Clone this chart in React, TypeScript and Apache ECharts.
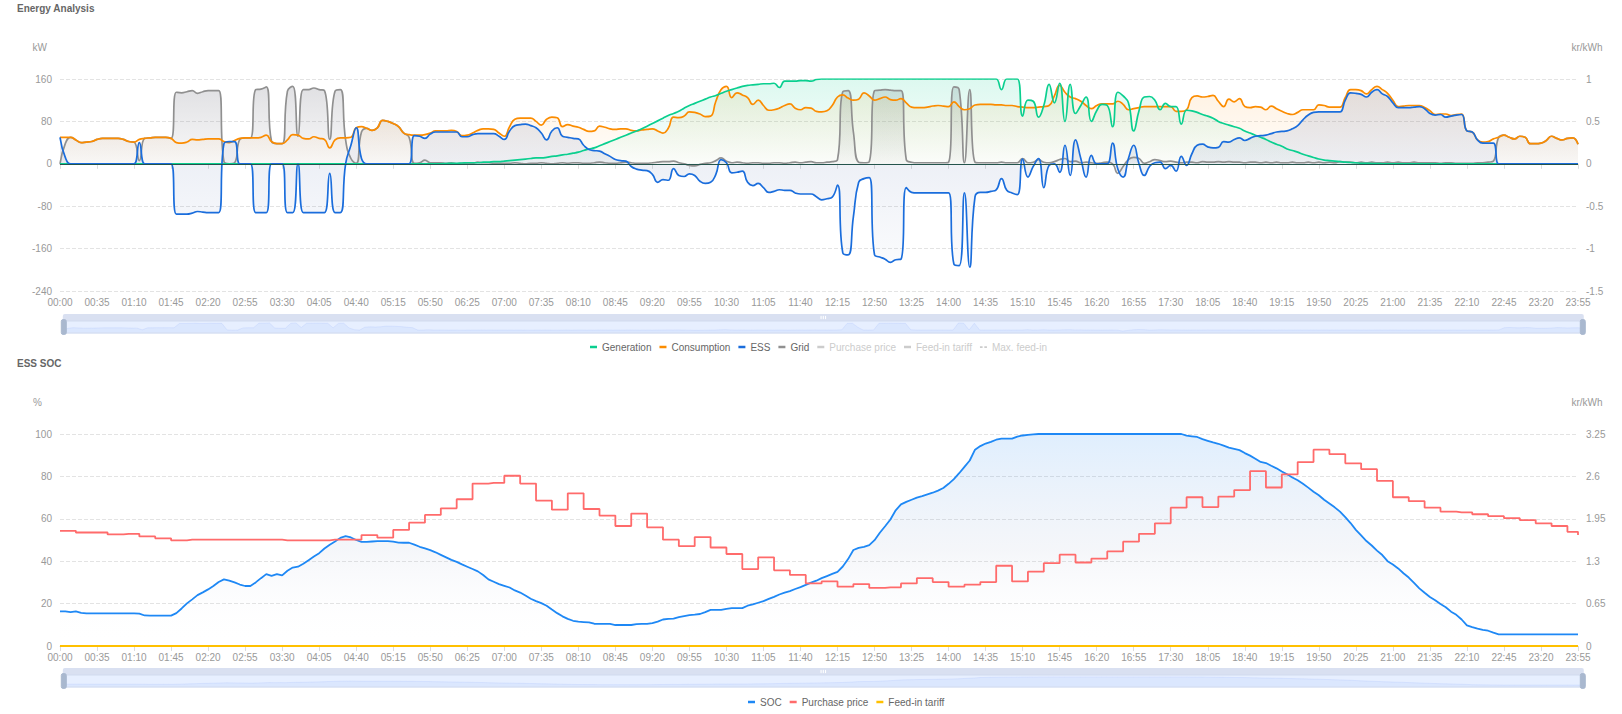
import React, { useEffect, useRef } from 'react';
import * as echarts from 'echarts';

const FONT = 'Liberation Sans, Arial, sans-serif';

const times: string[] = [];
for (let m = 0; m < 1440; m += 5) {
  times.push(String(Math.floor(m / 60)).padStart(2, '0') + ':' + String(m % 60).padStart(2, '0'));
}

// kW, 5-minute samples
const generation = [
  0,0,0,0,0,0,0,0,0,0,0,0,
  0,0,0,0,0,0,0,0,0,0,0,0,
  0,0,0,0,0,0,0,0,0,0,0,0,
  0,0,0,0,0,0,0,0,0,0,0,0,
  0,0,0,0,0,0,0,0,0,0,0,0,
  0,0,0,0,0,0,0,0,0,0,0,0,
  0,0.5,1,1,1.5,2,2,2,3,3,4,4,
  5,6,7,8,9,10,11,11,12,14,15,17,
  18,20,22,25,28,30,34,38,42,46,50,54,
  58,62,66,71,76,81,86,91,95,99,105,110,
  114,118,122,126,129,133,137,140,143,146,148,149,
  150,151,151,152,144,156,156,156,157,157,156,159,
  160,160,160,160,160,160,160,160,160,160,160,160,
  160,160,160,160,160,160,160,160,160,160,160,160,
  160,160,160,160,160,160,160,160,160,160,140,160,
  160,160,90,120,118,88,110,150,115,152,80,150,
  95,110,126,80,100,112,110,70,135,128,115,62,
  100,126,127,120,102,114,108,108,75,101,100,97,
  93,90,86,80,76,73,70,67,62,58,54,50,
  46,41,37,33,28,25,22,18,15,12,9,7,
  6,5,4,3,2.5,2,1,1,0.5,0.5,0,0,
  0,0,0,0,0,0,0,0,0,0,0,0,
  0,0,0,0,0,0,0,0,0,0,0,0,
  0,0,0,0,0,0,0,0,0,0,0,0,
];

const consumption = [
  50,50,50,45,40,41,42,46,48,48,48,48,
  46,42,41,46,48,49,50,50,50,48,40,39,
  41,46,45,46,47,47,47,42,40,44,48,49,
  49,49,50,54,42,38,38,45,55,54,48,47,
  51,48,46,30,45,49,49,50,68,70,67,63,
  68,82,80,76,70,58,55,54,54,55,58,62,
  62,62,63,61,53,54,58,63,66,66,65,58,
  52,70,84,86,86,86,80,73,84,88,87,70,
  74,71,69,65,61,62,71,69,66,65,66,66,
  63,62,64,65,66,62,58,67,88,87,90,98,
  97,94,89,90,118,140,146,125,134,130,125,112,
  120,110,101,102,105,110,113,105,102,106,105,99,
  98,100,110,126,130,124,120,122,134,128,120,123,
  126,121,120,123,115,107,106,106,107,109,110,109,
  108,117,108,102,104,111,112,112,112,111,111,110,
  110,108,107,106,106,107,108,110,128,148,135,126,
  123,118,110,104,110,113,113,113,118,112,102,104,
  106,108,108,108,108,108,108,99,99,102,125,128,
  126,127,129,118,108,122,117,123,108,106,108,107,
  102,109,104,99,95,93,97,102,102,102,111,110,
  107,107,107,125,140,140,138,132,140,146,140,133,
  120,108,109,110,110,110,106,100,93,94,94,91,
  93,94,62,60,45,41,42,47,50,54,50,47,
  52,50,38,38,39,44,52,48,45,48,49,37,
];

const ess = [
  50,12,0,0,0,0,0,0,0,0,0,0,
  0,0,0,40,0,0,0,0,0,0,-95,-95,
  -95,-93,-90,-91,-92,-92,-92,38,42,42,0,0,
  0,-92,-92,-92,0,0,0,-92,-92,0,-92,-92,
  -92,-92,-92,-18,-92,-92,0,35,68,10,0,0,
  0,0,0,0,0,0,0,53,52,48,56,60,
  60,60,60,60,51,51,55,57,57,57,57,52,
  46,62,72,74,75,72,68,58,45,62,68,52,
  50,48,47,35,27,25,24,19,14,8,6,5,
  -5,-10,-12,-13,-20,-35,-30,-31,-9,-22,-24,-19,
  -22,-33,-37,-35,-20,8,2,-17,-16,-14,-35,-41,
  -37,-45,-54,-52,-49,-50,-50,-55,-57,-57,-57,-62,
  -68,-66,-63,-40,-168,-172,-100,-35,-28,-26,-172,-176,
  -180,-186,-181,-180,-45,-54,-55,-55,-55,-55,-55,-55,
  -55,-189,-192,-55,-195,-62,-54,-54,-52,-49,-28,-50,
  -55,-58,9,-25,-5,10,-45,-3,0,-16,35,-22,
  45,10,-25,16,0,0,0,39,-10,-25,10,35,
  0,-22,-5,2,3,-9,-3,-14,14,-3,19,35,
  37,32,30,31,42,41,46,49,44,48,52,53,
  54,57,60,61,62,66,72,83,92,97,98,98,
  98,98,98,120,134,133,131,126,135,140,132,127,
  115,106,106,106,107,108,104,95,92,93,88,90,
  92,93,62,60,45,39,39,39,0,0,0,0,
  0,0,0,0,0,0,0,0,0,0,0,0,
];

const gridPower = [
  0,38,50,45,40,41,42,46,48,48,48,48,
  46,42,41,6,48,49,50,50,50,48,135,134,
  136,138,133,136,138,138,138,4,0,2,46,49,
  49,140,141,145,42,38,38,137,146,52,140,140,
  143,140,138,46,137,140,45,10,1,60,67,63,
  68,82,80,76,70,58,50,1,2,7,2,2,
  2,1,2,0,1,1,1,3,2,2,1,1,
  1,1,2,1,0,1,1,2,1,0,1,2,
  1,2,2,1,1,2,3,2,1,1,2,3,
  2,1,1,1,2,3,4,4,5,2,0,-3,
  -4,-1,1,2,6,11,5,2,3,2,1,2,
  2,1,1,2,2,1,2,3,2,3,4,2,
  2,3,4,8,136,138,60,3,2,4,138,139,
  140,139,138,138,8,3,2,2,2,2,2,2,
  3,145,140,2,140,3,2,2,2,2,3,2,
  2,2,10,2,3,8,3,2,4,8,10,4,
  5,2,3,2,1,2,3,0,-18,-5,8,12,
  10,1,4,8,6,4,5,3,2,3,3,2,
  4,3,3,4,3,4,3,3,2,3,3,2,
  3,2,3,2,2,3,2,2,3,2,3,2,
  3,2,4,3,3,2,3,2,3,2,2,3,
  2,3,2,2,3,2,2,2,2,1,2,2,
  1,1,1,1,2,2,3,5,50,54,50,47,
  52,50,38,38,39,44,52,48,45,48,49,37,
];

// %, 5-minute samples
const soc = [
  16.3,16.3,16,16.3,15.6,15.4,15.4,15.4,15.4,15.4,15.4,15.4,
  15.4,15.4,15.4,15.3,14.4,14.3,14.3,14.3,14.3,14.3,15.5,17.7,
  20.1,22,24,25.3,26.7,28.3,30.2,31.4,30.8,30,29,28.3,
  28.3,30,32,33.9,33.1,33.9,33.3,35.5,37,37.4,38.8,40.5,
  42.2,43.8,46,47.8,49.3,51,51.8,51.2,50,49.1,49.1,49.3,
  49.5,49.5,49.5,49.2,48.8,48.7,48.7,47.8,46.8,46,45.2,44.2,
  43,41.8,40.6,39.7,38.5,37.4,36.3,35.2,33.5,31.4,30.3,29.2,
  28.4,27.6,26.2,25.2,23.8,22.3,21.2,20.2,19,17.2,15.5,14,
  12.8,11.9,11.5,11.3,11.1,10.5,10.4,10.4,10.4,9.9,9.9,9.9,
  9.9,10.3,10.4,10.4,10.8,11.5,12.5,12.8,12.9,13.6,14.1,14.6,
  14.8,15.1,16,17,17,17,17.5,17.9,17.9,17.9,19,19.6,
  20.4,21.2,22.2,23.2,24.3,25.2,25.9,26.9,27.8,28.8,29.9,30.8,
  32,33,34,35,37.5,41,45.3,46.3,46.8,47.6,49.9,53.4,
  56.5,59.7,64,66.8,68,69,70,70.7,71.5,72.3,73.3,74.5,
  76.5,78.7,81.5,84.5,87.5,92.6,94.3,95.5,96.3,97.3,97.8,97.8,
  97.8,98.8,99.3,99.6,99.8,100,100,100,100,100,100,100,
  100,100,100,100,100,100,100,100,100,100,100,100,
  100,100,100,100,100,100,100,100,100,99.2,98.9,98.6,
  97.6,96.8,96,95.4,94.5,93.6,93,92.4,91,89.8,88.3,86.8,
  86.3,85,83.8,82.3,81,79.5,78.2,76.5,74.7,72.8,71.1,69,
  67.2,65.4,63.4,60.8,58,54.8,52.2,49.5,47.4,45,42.9,40,
  38.4,36.6,34.3,32.3,29.8,27.2,25.1,23.1,21.6,19.8,18.3,16.2,
  14.7,12.5,9.7,8.9,8.2,7.6,7.2,6.3,5.5,5.5,5.5,5.5,
  5.5,5.5,5.5,5.5,5.5,5.5,5.5,5.5,5.5,5.5,5.5,5.5,
];

// kr/kWh, 5-minute samples
const purchasePrice = [
  1.765,1.765,1.765,1.74,1.74,1.74,1.74,1.74,1.74,1.71,1.71,1.71,
  1.72,1.72,1.72,1.68,1.68,1.68,1.65,1.65,1.65,1.62,1.62,1.62,
  1.63,1.63,1.63,1.63,1.63,1.63,1.63,1.63,1.63,1.63,1.63,1.63,
  1.63,1.63,1.63,1.63,1.63,1.63,1.62,1.62,1.62,1.62,1.62,1.62,
  1.62,1.62,1.62,1.63,1.63,1.63,1.63,1.63,1.63,1.70,1.70,1.70,
  1.66,1.66,1.66,1.78,1.78,1.78,1.89,1.89,1.89,2.01,2.01,2.01,
  2.11,2.11,2.11,2.25,2.25,2.25,2.49,2.49,2.49,2.50,2.50,2.50,
  2.61,2.61,2.61,2.49,2.49,2.49,2.23,2.23,2.23,2.09,2.09,2.09,
  2.34,2.34,2.34,2.10,2.10,2.10,2.00,2.00,2.00,1.84,1.84,1.84,
  2.03,2.03,2.03,1.82,1.82,1.82,1.63,1.63,1.63,1.53,1.53,1.53,
  1.67,1.67,1.67,1.51,1.51,1.51,1.41,1.41,1.41,1.18,1.18,1.18,
  1.36,1.36,1.36,1.16,1.16,1.16,1.09,1.09,1.09,0.96,0.96,0.96,
  0.99,0.99,0.99,0.91,0.91,0.91,0.95,0.95,0.95,0.89,0.89,0.89,
  0.90,0.90,0.90,0.96,0.96,0.96,1.04,1.04,1.04,0.98,0.98,0.98,
  0.91,0.91,0.91,0.94,0.94,0.94,0.98,0.98,0.98,1.23,1.23,1.23,
  0.99,0.99,0.99,1.14,1.14,1.14,1.27,1.27,1.27,1.40,1.40,1.40,
  1.28,1.28,1.28,1.34,1.34,1.34,1.45,1.45,1.45,1.60,1.60,1.60,
  1.72,1.72,1.72,1.88,1.88,1.88,2.12,2.12,2.12,2.28,2.28,2.28,
  2.13,2.13,2.13,2.29,2.29,2.29,2.39,2.39,2.39,2.68,2.68,2.68,
  2.43,2.43,2.43,2.63,2.63,2.63,2.82,2.82,2.82,3.01,3.01,3.01,
  2.94,2.94,2.94,2.80,2.80,2.80,2.71,2.71,2.71,2.53,2.53,2.53,
  2.28,2.28,2.28,2.22,2.22,2.22,2.12,2.12,2.12,2.06,2.06,2.06,
  2.05,2.05,2.05,2.02,2.02,2.02,1.99,1.99,1.99,1.96,1.96,1.96,
  1.93,1.93,1.93,1.88,1.88,1.88,1.84,1.84,1.84,1.75,1.75,1.70,
];

const feedInTariff = [
  0,0,0,0,0,0,0,0,0,0,0,0, 0,0,0,0,0,0,0,0,0,0,0,0,
  0,0,0,0,0,0,0,0,0,0,0,0, 0,0,0,0,0,0,0,0,0,0,0,0,
  0,0,0,0,0,0,0,0,0,0,0,0, 0,0,0,0,0,0,0,0,0,0,0,0,
  0,0,0,0,0,0,0,0,0,0,0,0, 0,0,0,0,0,0,0,0,0,0,0,0,
  0,0,0,0,0,0,0,0,0,0,0,0, 0,0,0,0,0,0,0,0,0,0,0,0,
  0,0,0,0,0,0,0,0,0,0,0,0, 0,0,0,0,0,0,0,0,0,0,0,0,
  0,0,0,0,0,0,0,0,0,0,0,0, 0,0,0,0,0,0,0,0,0,0,0,0,
  0,0,0,0,0,0,0,0,0,0,0,0, 0,0,0,0,0,0,0,0,0,0,0,0,
  0,0,0,0,0,0,0,0,0,0,0,0, 0,0,0,0,0,0,0,0,0,0,0,0,
  0,0,0,0,0,0,0,0,0,0,0,0, 0,0,0,0,0,0,0,0,0,0,0,0,
  0,0,0,0,0,0,0,0,0,0,0,0, 0,0,0,0,0,0,0,0,0,0,0,0,
  0,0,0,0,0,0,0,0,0,0,0,0, 0,0,0,0,0,0,0,0,0,0,0,0,
];

const maxFeedIn: number[] = [];

const topYTicks = { min: -240, max: 160, interval: 80 };
const topY2Ticks = { min: -1.5, max: 1, interval: 0.5 };
const botYTicks = { min: 0, max: 100, interval: 20 };
const botY2Ticks = { min: 0, max: 3.25, interval: 0.65 };

const COLORS = {
  generation: '#0acf8f',
  consumption: '#fb8c00',
  ess: '#1a6ddc',
  grid: '#909090',
  soc: '#1e88f5',
  price: '#ff6b6b',
  feedIn: '#ffc000',
  maxFeedIn: '#b0b0b0',
};

const PILL = 'path://M3,0h2a3,3,0,0,1,3,3v18a3,3,0,0,1,-3,3h-2a3,3,0,0,1,-3,-3v-18a3,3,0,0,1,3,-3z';
const DASH_ICON = 'path://M0,0h3v2h-3z M5,0h3v2h-3z';

function grad(r: number, g: number, b: number, a0: number, a1: number) {
  return new echarts.graphic.LinearGradient(0, 0, 0, 1, [
    { offset: 0, color: `rgba(${r},${g},${b},${a0})` },
    { offset: 1, color: `rgba(${r},${g},${b},${a1})` },
  ]);
}

function xAxisCfg() {
  return {
    type: 'category',
    data: times,
    boundaryGap: false,
    axisLine: { lineStyle: { color: '#dcdcdc' } },
    axisTick: { show: true, interval: 6, lineStyle: { color: '#dcdcdc' } },
    axisLabel: { interval: 6, fontSize: 10, color: '#999', margin: 6, fontFamily: FONT },
    splitLine: { show: false },
  };
}

function sliderCfg(top: number) {
  return {
    type: 'slider',
    xAxisIndex: 0,
    start: 0,
    end: 100,
    left: 60,
    right: 41,
    top,
    height: 13,
    showDetail: false,
    backgroundColor: 'rgba(0,0,0,0)',
    borderColor: '#d2dbee',
    borderRadius: 3,
    fillerColor: 'rgba(135,175,255,0.2)',
    handleIcon: PILL,
    handleSize: '115%',
    handleStyle: { color: '#a9b8cf', borderColor: '#a9b8cf' },
    moveHandleSize: 7,
    moveHandleStyle: { color: '#d2dbee', opacity: 0.85 },
    dataBackground: {
      lineStyle: { color: '#d2dbee', width: 0.5 },
      areaStyle: { color: '#d2dbee', opacity: 0.2 },
    },
    selectedDataBackground: {
      lineStyle: { color: '#8fb0f7', width: 0.5, opacity: 0.35 },
      areaStyle: { color: '#8fb0f7', opacity: 0.12 },
    },
  };
}

function yLabel() {
  return { fontSize: 10, color: '#999', margin: 8, fontFamily: FONT };
}

function topOption(): any {
  const line = (name: string, data: number[], color: string, area: any, extra: any = {}) => ({
    name,
    type: 'line',
    data,
    smooth: true,
    symbol: 'none',
    showSymbol: false,
    lineStyle: { width: 1.7, color },
    itemStyle: { color },
    areaStyle: { color: area },
    ...extra,
  });
  return {
    animation: false,
    textStyle: { fontFamily: FONT },
    title: {
      text: 'Energy Analysis',
      left: 17,
      top: 3,
      padding: 0,
      textStyle: { fontSize: 10, fontWeight: 'bold', color: '#666', fontFamily: FONT },
    },
    legend: {
      left: 585,
      top: 337,
      itemWidth: 7,
      itemHeight: 2.5,
      itemGap: 8,
      inactiveColor: '#ccc',
      textStyle: { fontSize: 10, color: '#666', fontFamily: FONT },
      data: [
        { name: 'Generation', icon: 'rect' },
        { name: 'Consumption', icon: 'rect' },
        { name: 'ESS', icon: 'rect' },
        { name: 'Grid', icon: 'rect' },
        { name: 'Purchase price', icon: 'rect' },
        { name: 'Feed-in tariff', icon: 'rect' },
        { name: 'Max. feed-in', icon: DASH_ICON },
      ],
      selected: { 'Purchase price': false, 'Feed-in tariff': false, 'Max. feed-in': false },
    },
    grid: { left: 60, right: 44, top: 79, bottom: 66, outerBoundsMode: 'none' },
    xAxis: xAxisCfg(),
    yAxis: [
      {
        type: 'value',
        ...topYTicks,
        name: 'kW',
        nameGap: 32,
        nameTextStyle: { color: '#999', fontSize: 10, align: 'right', verticalAlign: 'middle', padding: [0, 13, 0, 0], fontFamily: FONT },
        axisLine: { show: false },
        axisTick: { show: false },
        axisLabel: yLabel(),
        splitLine: { lineStyle: { type: 'dashed', color: '#e3e3e3' } },
      },
      {
        type: 'value',
        ...topY2Ticks,
        position: 'right',
        name: 'kr/kWh',
        nameGap: 32,
        nameTextStyle: { color: '#999', fontSize: 10, align: 'center', verticalAlign: 'middle', padding: [0, 0, 0, 18], fontFamily: FONT },
        axisLine: { show: false },
        axisTick: { show: false },
        axisLabel: yLabel(),
        splitLine: { show: false },
      },
    ],
    dataZoom: [sliderCfg(314)],
    series: [
      line('Grid', gridPower, COLORS.grid, grad(140, 140, 150, 0.38, 0.04)),
      line('Consumption', consumption, COLORS.consumption, grad(255, 140, 0, 0.17, 0.02)),
      line('Generation', generation, COLORS.generation, grad(10, 207, 143, 0.2, 0.02)),
      line('ESS', ess, COLORS.ess, grad(60, 90, 160, 0.2, 0.03), {
        markLine: {
          silent: true,
          symbol: 'none',
          label: { show: false },
          lineStyle: { color: '#24544c', width: 1, type: 'solid' },
          data: [{ yAxis: 0 }],
        },
      }),
      {
        name: 'Purchase price', type: 'line', yAxisIndex: 1, data: purchasePrice, step: 'end',
        symbol: 'none', lineStyle: { width: 1.7, color: COLORS.price }, itemStyle: { color: COLORS.price },
      },
      {
        name: 'Feed-in tariff', type: 'line', yAxisIndex: 1, data: feedInTariff,
        symbol: 'none', lineStyle: { width: 1.7, color: COLORS.feedIn }, itemStyle: { color: COLORS.feedIn },
      },
      {
        name: 'Max. feed-in', type: 'line', yAxisIndex: 0, data: maxFeedIn,
        symbol: 'none', lineStyle: { width: 1.7, type: 'dashed', color: COLORS.maxFeedIn }, itemStyle: { color: COLORS.maxFeedIn },
      },
    ],
  };
}

function bottomOption(): any {
  return {
    animation: false,
    textStyle: { fontFamily: FONT },
    title: {
      text: 'ESS SOC',
      left: 17,
      top: 1,
      padding: 0,
      textStyle: { fontSize: 10, fontWeight: 'bold', color: '#666', fontFamily: FONT },
    },
    legend: {
      left: 743,
      top: 335,
      itemWidth: 7,
      itemHeight: 2.5,
      itemGap: 8,
      inactiveColor: '#ccc',
      textStyle: { fontSize: 10, color: '#666', fontFamily: FONT },
      data: [
        { name: 'SOC', icon: 'rect' },
        { name: 'Purchase price', icon: 'rect' },
        { name: 'Feed-in tariff', icon: 'rect' },
      ],
    },
    grid: { left: 60, right: 44, top: 77, bottom: 68, outerBoundsMode: 'none' },
    xAxis: xAxisCfg(),
    yAxis: [
      {
        type: 'value',
        ...botYTicks,
        name: '%',
        nameGap: 31.5,
        nameTextStyle: { color: '#999', fontSize: 10, align: 'right', verticalAlign: 'middle', padding: [0, 18, 0, 0], fontFamily: FONT },
        axisLine: { show: false },
        axisTick: { show: false },
        axisLabel: yLabel(),
        splitLine: { lineStyle: { type: 'dashed', color: '#e3e3e3' } },
      },
      {
        type: 'value',
        ...botY2Ticks,
        position: 'right',
        name: 'kr/kWh',
        nameGap: 31.5,
        nameTextStyle: { color: '#999', fontSize: 10, align: 'center', verticalAlign: 'middle', padding: [0, 0, 0, 18], fontFamily: FONT },
        axisLine: { show: false },
        axisTick: { show: false },
        axisLabel: yLabel(),
        splitLine: { show: false },
      },
    ],
    dataZoom: [sliderCfg(311)],
    series: [
      {
        name: 'SOC', type: 'line', data: soc, symbol: 'none', showSymbol: false,
        lineStyle: { width: 1.8, color: COLORS.soc }, itemStyle: { color: COLORS.soc },
        areaStyle: {
          color: new echarts.graphic.LinearGradient(0, 0, 0, 1, [
            { offset: 0, color: 'rgba(30,136,245,0.2)' },
            { offset: 0.55, color: 'rgba(150,165,200,0.14)' },
            { offset: 1, color: 'rgba(255,255,255,0)' },
          ]),
        },
      },
      {
        name: 'Purchase price', type: 'line', yAxisIndex: 1, data: purchasePrice, step: 'end',
        symbol: 'none', showSymbol: false,
        lineStyle: { width: 1.8, color: COLORS.price }, itemStyle: { color: COLORS.price },
      },
      {
        name: 'Feed-in tariff', type: 'line', yAxisIndex: 1, data: feedInTariff,
        symbol: 'none', showSymbol: false,
        lineStyle: { width: 1.8, color: COLORS.feedIn }, itemStyle: { color: COLORS.feedIn },
      },
    ],
  };
}

export default function App() {
  const topRef = useRef<HTMLDivElement>(null);
  const botRef = useRef<HTMLDivElement>(null);
  useEffect(() => {
    const c1 = echarts.init(topRef.current as HTMLDivElement, undefined, { renderer: 'svg' });
    const c2 = echarts.init(botRef.current as HTMLDivElement, undefined, { renderer: 'svg' });
    c1.setOption(topOption());
    c2.setOption(bottomOption());
    return () => {
      c1.dispose();
      c2.dispose();
    };
  }, []);
  return (
    <div style={{ position: 'absolute', left: 0, top: 0, width: 1622, height: 714, background: '#fff' }}>
      <div ref={topRef} style={{ position: 'absolute', left: 0, top: 0, width: 1622, height: 357 }} />
      <div ref={botRef} style={{ position: 'absolute', left: 0, top: 357, width: 1622, height: 357 }} />
    </div>
  );
}
